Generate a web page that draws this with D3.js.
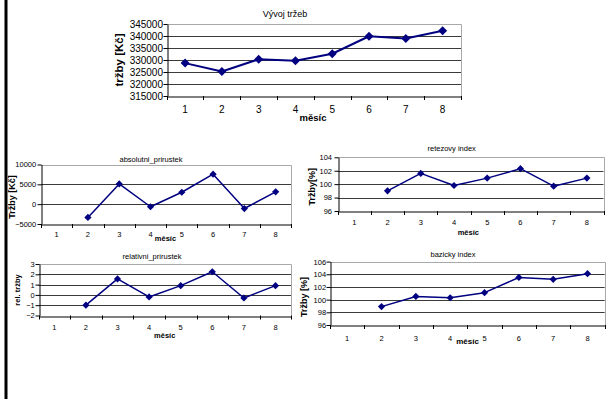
<!DOCTYPE html>
<html>
<head>
<meta charset="utf-8">
<script src="https://cdn.jsdelivr.net/npm/d3@7"></script>
<style>
  html, body { margin: 0; padding: 0; background: #fff; }
  svg { display: block; font-family: "Liberation Sans", Arial, sans-serif; }
</style>
</head>
<body>
<svg id="chart" width="607" height="399"></svg>
<script>
// ---- data ----
const months = [1, 2, 3, 4, 5, 6, 7, 8];
const trzby = [328700, 325200, 330300, 329700, 332600, 339900, 339000, 342200];
const absolutniPrirustek = [null, -3350, 5100, -650, 3000, 7550, -1100, 3100];
const retezovyIndex = [null, 99.0, 101.6, 99.8, 100.9, 102.3, 99.7, 100.9];
const relativniPrirustek = [null, -1.0, 1.55, -0.2, 0.9, 2.25, -0.3, 0.9];
const bazickyIndex = [null, 98.9, 100.5, 100.3, 101.1, 103.5, 103.2, 104.1];

const mainTicks = [315000, 320000, 325000, 330000, 335000, 340000, 345000];
const absTicks = [-5000, 0, 5000, 10000];
const retTicks = [96, 98, 100, 102, 104];
const relTicks = [-2, -1, 0, 1, 2, 3];
const bazTicks = [96, 98, 100, 102, 104, 106];

const titles = ["Vývoj tržeb", "absolutni_prirustek", "retezovy index", "relativni_prirustek", "bazicky index"];
const yTitles = ["tržby [Kč]", "Tržby [Kč]", "Tržby[%]", "rel. tržby", "Tržby [%]"];
const xTitle = "měsíc";

// ---- layout ----
const panels = [
  { values: trzby, ticks: mainTicks, title: titles[0], yTitle: yTitles[0],
    l: 166.7, r: 461, t: 24, b: 96, fs: 10, tfs: 9, afs: 9.5, yfs: 11.5,
    titleX: 285, titleY: 13.5, xtX: 313, xtY: 117.5, ytX: 119, ytY: 60, catY: 109, yGap: 4.5,
    mr: 4.5, lw: 2 },
  { values: absolutniPrirustek, ticks: absTicks, title: titles[1], yTitle: yTitles[1],
    l: 41, r: 291.3, t: 164.5, b: 224, fs: 7.5, tfs: 7.5, afs: 7.5, yfs: 9,
    titleX: 151, titleY: 159, xtX: 165.5, xtY: 238, ytX: 12, ytY: 197, catY: 234.3, yGap: 5.3,
    mr: 3.6, lw: 1.5 },
  { values: retezovyIndex, ticks: retTicks, title: titles[2], yTitle: yTitles[2],
    l: 337.7, r: 603.5, t: 157.3, b: 211, fs: 7.5, tfs: 7.5, afs: 7.5, yfs: 9,
    titleX: 451.7, titleY: 148.3, xtX: 468.3, xtY: 232, ytX: 312.3, ytY: 186.7, catY: 222.3, yGap: 6.5,
    mr: 3.6, lw: 1.5 },
  { values: relativniPrirustek, ticks: relTicks, title: titles[3], yTitle: yTitles[3],
    l: 38.5, r: 291.3, t: 264, b: 315.5, fs: 7.5, tfs: 7.5, afs: 7.5, yfs: 7.5,
    titleX: 152, titleY: 256, xtX: 164.7, xtY: 335, ytX: 17.4, ytY: 290, catY: 326.7, yGap: 4.8,
    mr: 3.6, lw: 1.5 },
  { values: bazickyIndex, ticks: bazTicks, title: titles[4], yTitle: yTitles[4],
    l: 330, r: 604.7, t: 261.6, b: 325, fs: 7.5, tfs: 7.5, afs: 8, yfs: 9,
    titleX: 453, titleY: 254.3, xtX: 467.5, xtY: 340.7, ytX: 304, ytY: 297, catY: 337.5, yGap: 4.4,
    mr: 3.6, lw: 1.5 }
];

const svg = d3.select("#chart");
svg.append("rect").attr("width", 607).attr("height", 399).attr("fill", "#fff");
// left black bar
svg.append("rect").attr("x", 4.5).attr("y", 0).attr("width", 3).attr("height", 399).attr("fill", "#000");

const navy = "#000080";

panels.forEach(p => {
  const g = svg.append("g");
  const x = d3.scaleBand().domain(months).range([p.l, p.r]).paddingInner(0).paddingOuter(0);
  const y = d3.scaleLinear().domain([p.ticks[0], p.ticks[p.ticks.length - 1]]).range([p.b, p.t]);

  // gridlines
  g.selectAll("line.grid").data(p.ticks.slice(1, -1)).join("line")
    .attr("class", "grid")
    .attr("x1", p.l).attr("x2", p.r)
    .attr("y1", d => Math.round(y(d)) + 0.5).attr("y2", d => Math.round(y(d)) + 0.5)
    .attr("stroke", "#3a3a3a").attr("stroke-width", 1);

  // plot border (top/right)
  g.append("path")
    .attr("d", `M${p.l},${Math.round(p.t) + 0.5} H${Math.round(p.r) + 0.5} V${p.b}`)
    .attr("fill", "none").attr("stroke", "#a8a8a8").attr("stroke-width", 1);

  // y axis
  const yAxis = d3.axisLeft(y).tickValues(p.ticks).tickSizeInner(4).tickSizeOuter(0)
    .tickPadding(p.yGap - 4).tickFormat(d3.format("d"));
  const ya = g.append("g").attr("transform", `translate(${Math.round(p.l) + 0.5},0)`).call(yAxis);
  ya.select(".domain").attr("stroke", "#000");
  ya.selectAll(".tick line").attr("stroke", "#000");
  ya.selectAll(".tick text").attr("font-size", p.fs).attr("fill", "#000")
    .attr("font-family", "Liberation Sans, Arial, sans-serif");

  // x axis (labels at band centres)
  const xAxis = d3.axisBottom(x).tickSize(0).tickSizeOuter(0);
  const xa = g.append("g").attr("transform", `translate(0,${Math.round(p.b) + 0.5})`).call(xAxis);
  xa.select(".domain").attr("stroke", "#000");
  xa.selectAll(".tick text").attr("font-size", p.fs).attr("fill", "#000")
    .attr("font-family", "Liberation Sans, Arial, sans-serif")
    .attr("y", p.catY - p.b).attr("dy", "0.35em");
  // tick marks at category boundaries
  const bounds = months.map(m => x(m)).concat([x(months[months.length - 1]) + x.bandwidth()]);
  g.selectAll("line.xt").data(bounds).join("line")
    .attr("class", "xt")
    .attr("x1", d => Math.round(d) + 0.5).attr("x2", d => Math.round(d) + 0.5)
    .attr("y1", p.b).attr("y2", p.b + 4)
    .attr("stroke", "#000");

  // line
  const pts = months.map((m, i) => ({ m, v: p.values[i] }));
  const line = d3.line().defined(d => d.v !== null)
    .x(d => x(d.m) + x.bandwidth() / 2).y(d => y(d.v));
  g.append("path").datum(pts).attr("d", line)
    .attr("fill", "none").attr("stroke", navy).attr("stroke-width", p.lw)
    .attr("stroke-linejoin", "round");

  // diamond markers
  const r = p.mr;
  g.selectAll("path.mk").data(pts.filter(d => d.v !== null)).join("path")
    .attr("class", "mk")
    .attr("transform", d => `translate(${x(d.m) + x.bandwidth() / 2},${y(d.v)})`)
    .attr("d", `M0,${-r}L${r},0L0,${r}L${-r},0Z`)
    .attr("fill", navy);

  // titles
  g.append("text").attr("x", p.titleX).attr("y", p.titleY).attr("dy", "0.35em")
    .attr("text-anchor", "middle").attr("font-size", p.tfs).attr("fill", "#000").text(p.title);
  g.append("text").attr("x", p.xtX).attr("y", p.xtY).attr("dy", "0.35em")
    .attr("text-anchor", "middle").attr("font-size", p.afs).attr("font-weight", "bold")
    .attr("fill", "#000").text(xTitle);
  g.append("text")
    .attr("transform", `translate(${p.ytX},${p.ytY}) rotate(-90)`)
    .attr("dy", "0.35em").attr("text-anchor", "middle")
    .attr("font-size", p.yfs).attr("font-weight", "bold").attr("fill", "#000").text(p.yTitle);
});
</script>
</body>
</html>
